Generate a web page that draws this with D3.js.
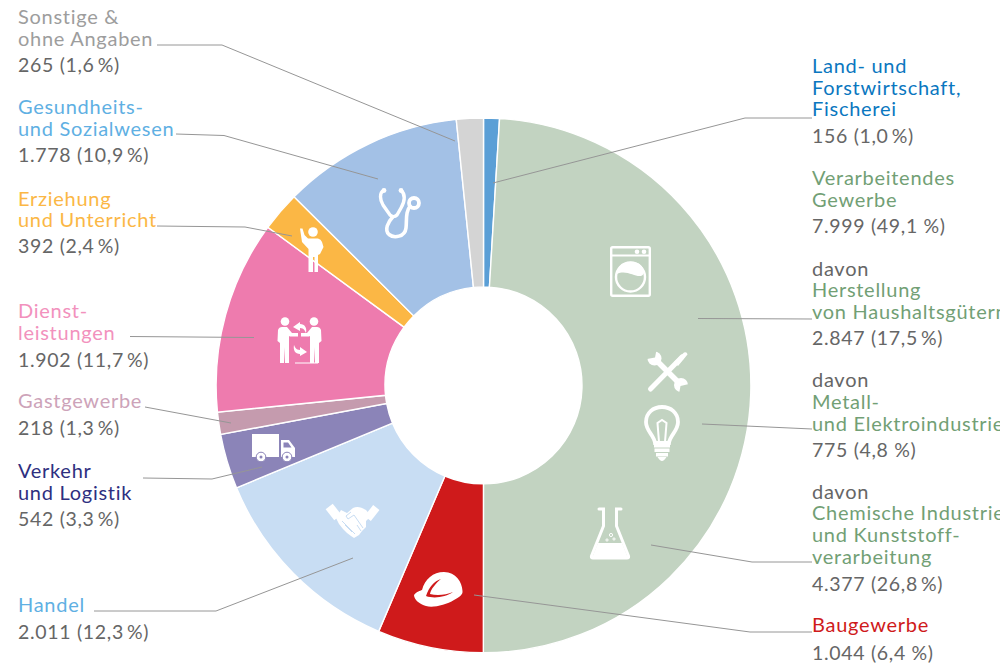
<!DOCTYPE html>
<html lang="de">
<head>
<meta charset="utf-8">
<title>Branchen</title>
<script src="https://cdn.jsdelivr.net/npm/d3@7"></script>
<style>
    html, body { margin: 0; padding: 0; background: #fff; overflow: hidden; }
    text { font-family: "Lato", sans-serif; font-size: 20px; letter-spacing: 0.72px; }
    text.num { font-size: 19.5px; letter-spacing: 0.68px; }
    .leader { fill: none; stroke: #969696; stroke-width: 1; }
</style>
</head>
<body>
<svg id="chart" width="1000" height="664"></svg>
<script>
const WIDTH = 1000;
const HEIGHT = 664;
const CX = 483.5;
const CY = 385.4;
const R_OUTER = 267.4;
const R_INNER = 98.5;

const GREY_TEXT = '#666666';
const GREEN_TEXT = '#729f75';

// clockwise from 12 o'clock
const sectors = ['Land', 'Verarbeitendes', 'Bau', 'Handel', 'Verkehr', 'Gast', 'Dienst', 'Erziehung', 'Gesundheit', 'Sonstige'];
const values = [156, 7999, 1044, 2011, 542, 218, 1902, 392, 1778, 265];
const sliceColors = ['#5b9fd6', '#c2d3c1', '#cf1a1b', '#c8ddf3', '#8b84b8', '#c59bae', '#ee7bae', '#fbb745', '#a3c1e6', '#d4d4d4'];

const labelLines = [
    ['Land- und', 'Forstwirtschaft,', 'Fischerei'],
    ['Verarbeitendes', 'Gewerbe'],
    ['Baugewerbe'],
    ['Handel'],
    ['Verkehr', 'und Logistik'],
    ['Gastgewerbe'],
    ['Dienst-', 'leistungen'],
    ['Erziehung', 'und Unterricht'],
    ['Gesundheits-', 'und Sozialwesen'],
    ['Sonstige &', 'ohne Angaben']
];
const labelValues = ['156 (1,0\u2009%)', '7.999 (49,1 %)', '1.044 (6,4 %)', '2.011 (12,3\u2009%)', '542 (3,3\u2009%)', '218 (1,3\u2009%)', '1.902 (11,7\u2009%)', '392 (2,4\u2009%)', '1.778 (10,9\u2009%)', '265 (1,6\u2009%)'];
const labelColors = ['#0a77c0', GREEN_TEXT, '#cf1a1b', '#5fb0e3', '#2e2f80', '#cda3b9', '#f291bd', '#fbb745', '#5fb0e3', '#9d9d9d'];

const subLines = [
    ['Herstellung', 'von Haushaltsgütern'],
    ['Metall-', 'und Elektroindustrie'],
    ['Chemische Industrie', 'und Kunststoff-', 'verarbeitung']
];
const subValues = ['2.847 (17,5\u2009%)', '775 (4,8 %)', '4.377 (26,8\u2009%)'];

// text baselines, one per drawn line
const labelLayout = [
    { x: 812, y: [73, 95, 116, 143] },
    { x: 812, y: [185, 207, 233] },
    { x: 812, y: [632, 660] },
    { x: 18, y: [612, 639] },
    { x: 18, y: [478, 499.5, 526] },
    { x: 18, y: [408, 435] },
    { x: 18, y: [318, 339.5, 367] },
    { x: 18, y: [206, 227, 253] },
    { x: 18, y: [114, 136, 162] },
    { x: 18, y: [24, 46, 72] }
];
const subLayout = [
    { x: 812, y: [276, 297, 319, 345] },
    { x: 812, y: [387, 409, 431, 457] },
    { x: 812, y: [499, 520, 542, 564, 591] }
];

const leaders = [
    [[812, 118], [745, 118], [493, 183]],
    [[812, 319], [698, 318.5]],
    [[812, 429], [702, 424]],
    [[812, 562], [752, 562], [651, 545]],
    [[812, 632], [750, 632], [474, 595]],
    [[94, 611], [216, 611], [353, 558]],
    [[143, 478], [212, 479], [262, 467]],
    [[145, 407], [231, 423]],
    [[130, 336.5], [254, 337.5]],
    [[157, 226], [245, 227], [292, 236]],
    [[176, 134], [224, 135.5], [378, 179]],
    [[157, 45], [222, 45], [455, 141]]
];

const svg = d3.select('#chart').attr('viewBox', `0 0 ${WIDTH} ${HEIGHT}`);

const pie = d3.pie().sort(null).value(d => d);
const arc = d3.arc().innerRadius(R_INNER).outerRadius(R_OUTER);

svg.append('g')
    .attr('transform', `translate(${CX},${CY})`)
    .selectAll('path')
    .data(pie(values))
    .join('path')
    .attr('class', (d, i) => 'slice-' + sectors[i])
    .attr('d', arc)
    .attr('fill', (d, i) => sliceColors[i])
    .attr('stroke', '#fff')
    .attr('stroke-width', 1.4);

// white pictograms, each drawn in its own little box
const WHITE = '#fff';

function washer(g, bg) {
    g.append('rect').attr('x', 1.2).attr('y', 1.2).attr('width', 38.6).attr('height', 48.6).attr('rx', 1.5)
        .attr('fill', 'none').attr('stroke', WHITE).attr('stroke-width', 2.4);
    g.append('line').attr('x1', 1).attr('x2', 40).attr('y1', 9.5).attr('y2', 9.5).attr('stroke', WHITE).attr('stroke-width', 1.8);
    g.append('circle').attr('cx', 27).attr('cy', 5.8).attr('r', 2.3).attr('fill', WHITE);
    g.append('circle').attr('cx', 34).attr('cy', 5.8).attr('r', 2.3).attr('fill', WHITE);
    g.append('circle').attr('cx', 20.5).attr('cy', 31).attr('r', 14.5).attr('fill', 'none').attr('stroke', WHITE).attr('stroke-width', 2.4);
    g.append('path').attr('d', 'M7 28 C7 12 34 12 34 27 C30 36 18 22 7 28Z').attr('fill', WHITE);
}

function tools(g, bg) {
    g.append('path').attr('d', 'M3.5 38 L35 6').attr('stroke', WHITE).attr('stroke-width', 5).attr('stroke-linecap', 'round');
    g.append('path').attr('d', 'M27 11 L37 1.5 Q40 0.5 40.5 3.5 L31 15Z').attr('fill', WHITE);
    g.append('path').attr('d', 'M8 8 L33 33').attr('stroke', WHITE).attr('stroke-width', 5.5);
    g.append('circle').attr('cx', 7.5).attr('cy', 7.5).attr('r', 7).attr('fill', WHITE);
    g.append('circle').attr('cx', 34).attr('cy', 34).attr('r', 7).attr('fill', WHITE);
    g.append('path').attr('d', 'M8 6.5 L0 8 L-1 -1 L9.5 -1Z').attr('fill', bg);
    g.append('path').attr('d', 'M33.5 35 L42 33 L43 43 L32 43Z').attr('fill', bg);
}

function bulb(g, bg) {
    g.append('path').attr('d', 'M11 38 C10 30 2 26 2 17 C2 8 9 2 18 2 C27 2 34 8 34 17 C34 26 26 30 25 38Z')
        .attr('fill', 'none').attr('stroke', WHITE).attr('stroke-width', 3.8);
    g.append('path').attr('d', 'M15 37 L13.5 18 L18 15 L22.5 18 L21 37').attr('fill', 'none').attr('stroke', WHITE).attr('stroke-width', 2);
    g.append('path').attr('d', 'M10 39 H26 V42.5 H10Z M10.5 43.5 H25.5 V47 H10.5Z M12 48 H24 V51.5 H12Z M13.5 52 H22.5 Q20 56 18 56 Q16 56 13.5 52Z').attr('fill', WHITE);
}

function flask(g, bg) {
    g.append('path').attr('d', 'M9 2 H13.5 V19 L1.5 49 Q1 51 3 51 H37 Q39 51 38.5 49 L26.5 19 V2 H31')
        .attr('fill', 'none').attr('stroke', WHITE).attr('stroke-width', 3).attr('stroke-linecap', 'round');
    g.append('path').attr('d', 'M8 36 H32 L38 51 H2Z').attr('fill', WHITE);
    g.append('circle').attr('cx', 21).attr('cy', 28).attr('r', 1.6).attr('fill', 'none').attr('stroke', WHITE);
    g.append('circle').attr('cx', 17).attr('cy', 33).attr('r', 1.1).attr('fill', 'none').attr('stroke', WHITE);
    g.append('circle').attr('cx', 24).attr('cy', 32).attr('r', 1.1).attr('fill', 'none').attr('stroke', WHITE);
}

function helmet(g, bg) {
    g.append('path').attr('d', 'M1 23 C4 19 7 19 9 18 C12 7 20 0 31 0 C43 0 49 10 49.5 19 C50 23 46 25 41 28 C33 33 20 36 13 34 C7 32 1 28 1 23Z').attr('fill', WHITE);
    g.append('path').attr('d', 'M13 24 C16 15 21 9 28 7 C23 11 18 17 17 22 C24 24 33 23 40 20 C33 25 21 27 13 24Z').attr('fill', bg);
}

function handshake(g, bg) {
    g.append('rect').attr('x', 3).attr('y', 2).attr('width', 9).attr('height', 14).attr('transform', 'rotate(-38 7.5 9)').attr('fill', WHITE);
    g.append('rect').attr('x', 42).attr('y', 3).attr('width', 8).attr('height', 14).attr('transform', 'rotate(38 46 10)').attr('fill', WHITE);
    g.append('path').attr('d', 'M15 7 L21 10 L27 5 C31 3 35 4 40 7 L45 13 L40 18 L40 24 L36 28 L33 32 L28 35 L25 33 L21 30 L17 26 L13 21 L10 15Z').attr('fill', WHITE);
    g.append('path').attr('d', 'M19 22 L26 29 M16 18 L29 31 M25 9 L20 13 L22 16 L28 12 L37 25 M31 22 L35 28')
        .attr('stroke', bg).attr('stroke-width', 1).attr('fill', 'none');
}

function truck(g, bg) {
    g.append('rect').attr('x', 0).attr('y', 0).attr('width', 27).attr('height', 23).attr('fill', WHITE);
    g.append('path').attr('d', 'M29 6 H37 L43 14 V23 H29Z').attr('fill', WHITE);
    g.append('path').attr('d', 'M31.5 8.5 H36 L39.5 13.5 H31.5Z').attr('fill', bg);
    [[9, 23], [35, 23]].forEach(c => {
        g.append('circle').attr('cx', c[0]).attr('cy', c[1]).attr('r', 4.8).attr('fill', WHITE).attr('stroke', bg).attr('stroke-width', 1);
        g.append('circle').attr('cx', c[0]).attr('cy', c[1]).attr('r', 1.5).attr('fill', bg);
    });
}

function person(g, cx, dir) {
    g.append('circle').attr('cx', cx).attr('cy', 4.5).attr('r', 4.3).attr('fill', WHITE);
    g.append('path').attr('d', `M${cx - 7 * dir} 13 Q${cx - 6 * dir} 10 ${cx - 3 * dir} 10 H${cx + 2 * dir} L${cx + 7 * dir} 16 H${cx + 13 * dir} V19.5 H${cx + 5 * dir} L${cx + 4 * dir} 19 V46 H${cx} V30 L${cx - 1 * dir} 46 H${cx - 5 * dir} V26 L${cx - 7.5 * dir} 24Z`).attr('fill', WHITE);
}

function exchange(g, bg) {
    person(g, 8, 1);
    person(g, 37, -1);
    g.append('path').attr('d', 'M23 5 L16 10 L23 14 L23 11 C27 11 28 14 29 16 C30 11 28 7 23 7Z').attr('fill', WHITE);
    g.append('path').attr('d', 'M23 39 L30 35 L23 30 L23 33 C19 33 18 30 17 28 C16 33 18 37 23 37Z').attr('fill', WHITE);
    g.append('path').attr('d', 'M18 46 H41').attr('stroke', WHITE).attr('stroke-width', 1);
}

function teacher(g, bg) {
    g.append('circle').attr('cx', 13).attr('cy', 5).attr('r', 4.8).attr('fill', WHITE);
    g.append('path').attr('d', 'M0 1.5 L2.5 1.5 L4.5 8 L8 11.5 H18 Q21 12 22 15 L23.5 20 L20 27 L18 28 V45 H14.5 V30 H13 V45 H8.5 V22 L2 15 Z').attr('fill', WHITE);
}

function stethoscope(g, bg) {
    g.append('path').attr('d', 'M5 2 C0 5 1 12 4 17 L11 27 C13 29 16 29 18 27 L22 20 C26 13 27 7 22 2')
        .attr('fill', 'none').attr('stroke', WHITE).attr('stroke-width', 3.4);
    g.append('path').attr('d', 'M14.5 28 C9 34 5 42 10 46.5 C15 50.5 26 49 27 40 C28 32 26 24 32 17')
        .attr('fill', 'none').attr('stroke', WHITE).attr('stroke-width', 3.6);
    g.append('circle').attr('cx', 5).attr('cy', 2.5).attr('r', 2.4).attr('fill', WHITE);
    g.append('circle').attr('cx', 22).attr('cy', 2.5).attr('r', 2.4).attr('fill', WHITE);
    g.append('circle').attr('cx', 35).attr('cy', 15).attr('r', 5).attr('fill', 'none').attr('stroke', WHITE).attr('stroke-width', 3.8);
}

const iconSpots = [
    { draw: washer, x: 610, y: 246, bg: 1 },
    { draw: tools, x: 647, y: 351, bg: 1 },
    { draw: bulb, x: 644, y: 405, bg: 1 },
    { draw: flask, x: 590, y: 507, bg: 1 },
    { draw: helmet, x: 413, y: 572, bg: 2 },
    { draw: handshake, x: 326, y: 503, bg: 3 },
    { draw: truck, x: 252, y: 434, bg: 4 },
    { draw: exchange, x: 277, y: 317, bg: 6 },
    { draw: teacher, x: 300, y: 227, bg: 7 },
    { draw: stethoscope, x: 379, y: 188, bg: 8 }
];

const icons = svg.append('g').attr('class', 'icons');
iconSpots.forEach(s => {
    s.draw(icons.append('g').attr('transform', `translate(${s.x},${s.y})`), sliceColors[s.bg]);
});

svg.append('g')
    .selectAll('path')
    .data(leaders)
    .join('path')
    .attr('class', 'leader')
    .attr('d', d3.line());

const labels = svg.append('g').attr('class', 'labels');

function addLabel(lines, color, valueText, layout, prefix) {
    const rows = [];
    if (prefix) rows.push({ t: prefix, c: GREY_TEXT });
    lines.forEach(t => rows.push({ t: t, c: color }));
    rows.push({ t: valueText, c: GREY_TEXT, num: true });
    rows.forEach((r, i) => {
        labels.append('text')
            .attr('class', r.num ? 'num' : null)
            .attr('x', layout.x)
            .attr('y', layout.y[i])
            .attr('fill', r.c)
            .text(r.t);
    });
}

labelLines.forEach((lines, i) => addLabel(lines, labelColors[i], labelValues[i], labelLayout[i]));
subLines.forEach((lines, i) => addLabel(lines, GREEN_TEXT, subValues[i], subLayout[i], 'davon'));
</script>
</body>
</html>
